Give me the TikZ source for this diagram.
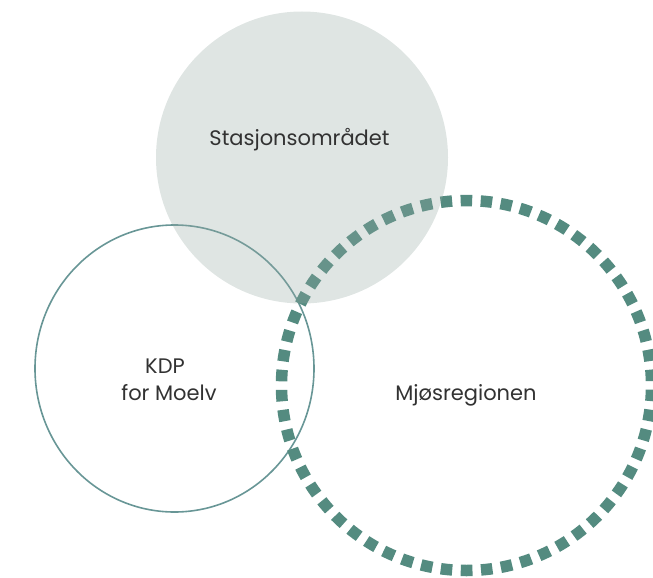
\documentclass[tikz,border=0pt]{standalone}
\usepackage{fontspec}
\setmainfont{Poppins}
\definecolor{dashteal}{RGB}{84,139,128}
\definecolor{thinteal}{RGB}{104,150,150}
\definecolor{stationgray}{RGB}{148,168,162}
\definecolor{labeltext}{RGB}{50,50,50}
\tikzset{
  label text/.style={font=\fontsize{21}{27}\selectfont, text=labeltext, inner sep=0pt},
}
\begin{document}
\begin{tikzpicture}[x=1pt,y=-1pt]
\useasboundingbox (0,0) rectangle (653,578);
% centres
\coordinate (cS) at (302,157.5);
\coordinate (cK) at (174.5,368.5);
\coordinate (cM) at (466.5,385.5);
% KDP circle (thin)
\draw[thinteal, line width=1.6pt] (cK) ellipse [x radius=139.5, y radius=143.5];
% Mjøsregionen circle (dotted squares)
\draw[dashteal, line width=11.5pt, dash pattern=on 11.5pt off 8.54pt, dash phase=5.75pt]
  (cM) ++(90:185) arc[start angle=90, end angle=450, radius=185];
% Stasjonsområdet circle (translucent fill on top)
\fill[stationgray, fill opacity=0.3] (cS) circle[radius=146];
% labels
\node[label text, anchor=base] (tS) at (299.5,145) {Stasjonsområdet};
\node[label text, anchor=base] (tK1) at (165,373) {KDP};
\node[label text, anchor=base] (tK2) at (169,400) {for Moelv};
\node[label text, anchor=base] (tM) at (466,400) {Mjøsregionen};
\end{tikzpicture}
\end{document}
